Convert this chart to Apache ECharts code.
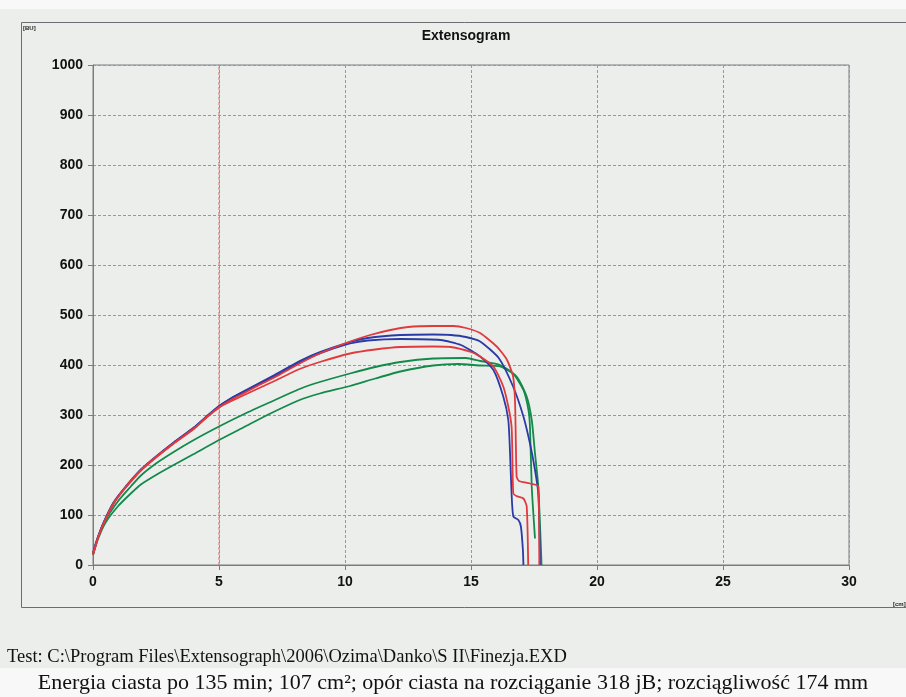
<!DOCTYPE html>
<html>
<head>
<meta charset="utf-8">
<script src="https://cdn.jsdelivr.net/npm/echarts@6/dist/echarts.min.js"></script>
<style>
  html, body { margin: 0; padding: 0; background: #eceeec; }
  #chart { width: 906px; height: 697px; }
</style>
</head>
<body>
<div id="chart"></div>
<script>
// extensogram curves, [distance cm, resistance BU]
var blue1 = [[0,22],[0.1,40],[0.2,56],[0.4,82],[0.8,122],[1.2,150],[1.9,190],[2.5,216],[3.2,244],[4.0,274],[4.5,296],[5.0,317],[5.5,334],[6.0,348],[6.6,364],[7.2,380],[8.2,408],[9.0,426],[10.2,446],[10.9,454],[12.2,460],[13.5,461],[14.2,460],[14.8,456],[15.36,447],[16.1,414],[16.67,357],[17.08,297],[17.34,243],[17.54,190],[17.67,143],[17.72,60],[17.74,0]];
var blue2 = [[0,24],[0.1,42],[0.2,57],[0.4,83],[0.8,124],[1.2,151],[1.9,191],[2.5,217],[3.2,245],[4.0,275],[4.5,297],[5.0,318],[5.5,334],[6.0,347],[6.6,362],[7.2,377],[8.2,405],[9.0,423],[10.2,443],[10.9,449],[12.2,452],[13.8,450],[14.6,440],[15.36,417],[15.89,390],[16.28,337],[16.48,290],[16.55,223],[16.61,143],[16.68,97],[16.88,90],[16.98,77],[17.06,30],[17.08,0]];
var red1 = [[0,20],[0.1,38],[0.2,54],[0.4,80],[0.8,121],[1.2,149],[1.9,189],[2.5,215],[3.2,243],[4.0,272],[4.5,295],[5.0,315],[5.5,331],[6.0,344],[6.6,360],[7.2,375],[8.2,403],[9.0,423],[10.2,447],[11.0,460],[11.8,470],[12.5,476],[13.5,478],[14.3,478],[14.8,474],[15.36,464],[16.02,437],[16.42,411],[16.67,377],[16.75,323],[16.81,177],[16.9,168],[17.34,163],[17.67,157],[17.71,0]];
var red2 = [[0,22],[0.1,39],[0.2,55],[0.4,81],[0.8,122],[1.2,150],[1.9,190],[2.5,216],[3.2,243],[4.0,273],[4.5,295],[5.0,315],[5.5,328],[6.0,340],[6.6,354],[7.2,368],[8.2,392],[9.0,406],[10.2,423],[11.2,431],[12.2,436],[13.5,437],[14.2,436],[15.0,426],[15.36,417],[15.89,397],[16.28,357],[16.48,317],[16.61,277],[16.64,223],[16.68,143],[16.8,138],[17.08,133],[17.21,117],[17.27,0]];
var green1 = [[0,20],[0.2,55],[0.5,90],[1.0,128],[1.5,157],[1.9,179],[2.5,203],[3.2,226],[4.0,250],[5.0,277],[6.0,302],[7.0,325],[8.2,352],[9.0,366],[10.2,383],[11.2,396],[12.2,406],[13.5,413],[14.8,414],[15.36,408],[16.15,400],[16.67,383],[17.08,350],[17.28,310],[17.34,277],[17.41,157],[17.54,53]];
var green2 = [[0,20],[0.2,52],[0.5,85],[1.0,118],[1.5,143],[1.9,161],[2.5,180],[3.2,200],[4.0,222],[5.0,250],[6.0,276],[7.0,302],[8.2,330],[9.0,343],[10.2,358],[11.2,373],[12.2,387],[13.5,399],[14.5,402],[15.36,399],[16.15,397],[16.81,377],[17.21,337],[17.41,290],[17.54,223],[17.67,157],[17.8,0]];
// red dotted reference line at 5 cm
var refLine = [[5, 0], [5, 1000]];

var xTicks = [0, 30, 5];     // min, max, step
var yTicks = [0, 1000, 100];

var chart = echarts.init(document.getElementById('chart'));
var axisFont = { color: '#111', fontSize: 14, fontWeight: 'bold', fontFamily: 'Liberation Sans, Arial' };
var gridLine = { show: true, lineStyle: { color: '#939a9e', width: 1, type: [3, 2] } };

function mkLine(name, data, color) {
  return { name: name, type: 'line', data: data, showSymbol: false, symbol: 'none',
    smooth: 0.2, lineStyle: { color: color, width: 1.8 }, silent: true };
}

chart.setOption({
  animation: false,
  backgroundColor: '#eceeec',
  grid: { left: 93, top: 65, right: 57, bottom: 132, show: true, borderColor: '#7a7d80', borderWidth: 1 },
  xAxis: {
    type: 'value', min: xTicks[0], max: xTicks[1], interval: xTicks[2],
    axisLine: { lineStyle: { color: '#7a7d80' } },
    axisTick: { show: true, length: 5, lineStyle: { color: '#7a7d80' } },
    axisLabel: Object.assign({ margin: 10 }, axisFont),
    splitLine: gridLine
  },
  yAxis: {
    type: 'value', min: yTicks[0], max: yTicks[1], interval: yTicks[2],
    axisLine: { show: true, lineStyle: { color: '#7a7d80' } },
    axisTick: { show: true, length: 5, lineStyle: { color: '#7a7d80' } },
    axisLabel: Object.assign({ margin: 10, formatter: function(v) { return String(v); } }, axisFont),
    splitLine: gridLine
  },
  series: [
    { name: 'ref', type: 'line', data: refLine, showSymbol: false, symbol: 'none', silent: true,
      lineStyle: { color: '#e0686a', width: 1, type: [3, 2] } },
    mkLine('g2', green2, '#13894a'),
    mkLine('g1', green1, '#13894a'),
    mkLine('b1', blue1, '#2b3aa6'),
    mkLine('b2', blue2, '#2b3aa6'),
    mkLine('r1', red1, '#e03a3e'),
    mkLine('r2', red2, '#e03a3e')
  ],
  graphic: [
    { type: 'rect', shape: { x: 0, y: 0, width: 906, height: 9 }, style: { fill: '#f7f8f7' }, silent: true },
    { type: 'rect', shape: { x: 0, y: 668, width: 906, height: 29 }, style: { fill: '#f7f8f7' }, silent: true },
    { type: 'rect', shape: { x: 21.5, y: 22.5, width: 900, height: 585 }, style: { fill: 'none', stroke: '#6b6e70', lineWidth: 1 }, silent: true },
    { type: 'text', x: 466, y: 36, style: { text: 'Extensogram', font: 'bold 14px "Liberation Sans", Arial', fill: '#111', textAlign: 'center', textVerticalAlign: 'middle' } },
    { type: 'text', x: 23, y: 25, style: { text: '[BU]', font: 'bold 6px "Liberation Sans", Arial', fill: '#222' } },
    { type: 'text', x: 893, y: 601, style: { text: '[cm]', font: 'bold 6px "Liberation Sans", Arial', fill: '#222' } },
    { type: 'text', x: 7, y: 657, style: { text: 'Test: C:\\Program Files\\Extensograph\\2006\\Ozima\\Danko\\S II\\Finezja.EXD', font: '18.5px "Liberation Serif", "Times New Roman", serif', fill: '#111', textVerticalAlign: 'middle' } },
    { type: 'text', x: 453, y: 683, style: { text: 'Energia ciasta po 135 min; 107 cm²; opór ciasta na rozciąganie 318 jB; rozciągliwość 174 mm', font: '22px "Liberation Serif", "Times New Roman", serif', fill: '#111', textAlign: 'center', textVerticalAlign: 'middle' } }
  ]
});
</script>
</body>
</html>
